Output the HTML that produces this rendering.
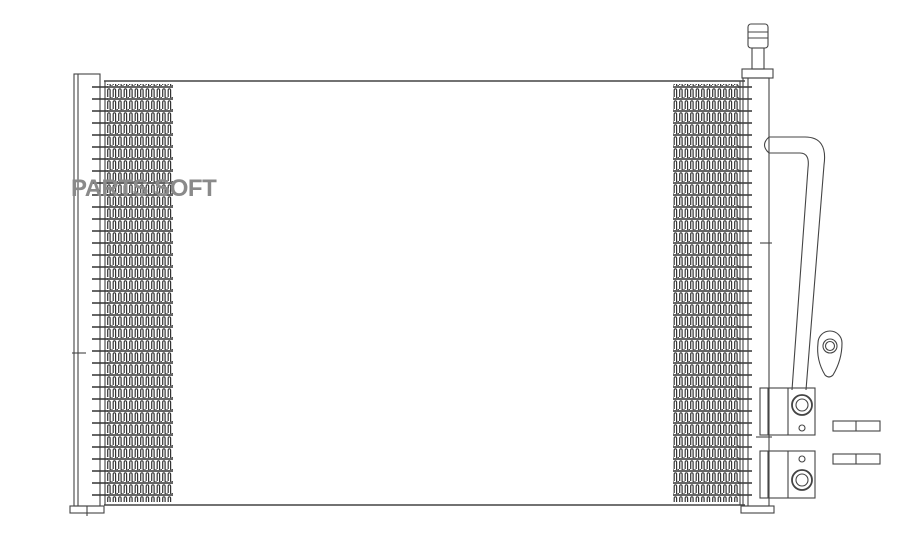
<!DOCTYPE html>
<html><head><style>
html,body{margin:0;padding:0;background:#fff;width:900px;height:534px;overflow:hidden}
.wm{position:absolute;left:71px;top:175px;font-family:"Liberation Sans",sans-serif;font-size:24px;font-weight:bold;color:#8a8a8a;letter-spacing:-0.5px}
</style></head><body>
<svg width="900" height="534" style="position:absolute;left:0;top:0" xmlns="http://www.w3.org/2000/svg">
<defs>
<pattern id="fin" x="107" y="86" width="5.5" height="12" patternUnits="userSpaceOnUse">
<path d="M0.7 11 V4 A1.2 1.2 0 0 1 3.1 4 V11 A1.2 1.2 0 0 0 5.5 11" fill="none" stroke="#333" stroke-width="1.2"/>
<line x1="0" y1="1" x2="5.5" y2="1" stroke="#333" stroke-width="1.5"/>
</pattern>
<pattern id="tick" x="0" y="86" width="20" height="12" patternUnits="userSpaceOnUse">
<line x1="0" y1="1" x2="20" y2="1" stroke="#333" stroke-width="1.6"/>
</pattern>
</defs>
<g fill="none" stroke="#444" stroke-width="1.1">
<rect x="74" y="74" width="26" height="432"/>
<line x1="78" y1="74" x2="78" y2="506"/>
<rect x="70" y="506" width="34" height="7"/>
<line x1="87" y1="506" x2="87" y2="516"/>
<line x1="72" y1="353" x2="86" y2="353"/>
<line x1="104" y1="81" x2="745" y2="81" stroke-width="1.4"/>
<line x1="104" y1="505" x2="745" y2="505" stroke-width="1.4"/>
<line x1="105" y1="81" x2="105" y2="505"/>
<line x1="740" y1="81" x2="740" y2="505"/>
</g>
<rect x="107" y="84" width="66" height="418" fill="url(#fin)"/>
<rect x="673" y="84" width="66" height="418" fill="url(#fin)"/>
<rect x="92" y="86" width="16" height="416" fill="url(#tick)"/>
<rect x="738" y="86" width="14" height="416" fill="url(#tick)"/>
<g fill="none" stroke="#444" stroke-width="1.1">
<rect x="743" y="78" width="26" height="428"/>
<line x1="748" y1="78" x2="748" y2="506"/>
<rect x="742" y="69" width="31" height="9"/>
<rect x="752" y="48" width="12" height="21"/>
<rect x="748" y="24" width="20" height="24" rx="3"/>
<line x1="748" y1="32" x2="768" y2="32"/><line x1="748" y1="38" x2="768" y2="38"/>
<rect x="741" y="506" width="33" height="7"/>
<line x1="760" y1="243" x2="772" y2="243"/>
<path d="M769 137 H805 Q828 137 824 165 L806 390"/>
<path d="M769 153 H800 Q810 153 808 168 L792 390"/>
<path d="M769 137 Q760 145 769 153"/>
<path d="M818 343 A12 12 0 0 1 842 343 Q842 360 833 375 Q829 379 825 375 Q816 360 818 343Z"/>
<circle cx="830" cy="346" r="7"/><circle cx="830" cy="346" r="4.5"/>
<rect x="760" y="388" width="55" height="47"/>
<line x1="768" y1="388" x2="768" y2="435"/><line x1="788" y1="388" x2="788" y2="435"/>
<circle cx="802" cy="405" r="10" stroke-width="1.8"/><circle cx="802" cy="405" r="6"/>
<circle cx="802" cy="428" r="3"/>
<rect x="760" y="451" width="55" height="47"/>
<line x1="768" y1="451" x2="768" y2="498"/><line x1="788" y1="451" x2="788" y2="498"/>
<circle cx="802" cy="480" r="10" stroke-width="1.8"/><circle cx="802" cy="480" r="6"/>
<circle cx="802" cy="459" r="3"/>
<line x1="756" y1="437" x2="772" y2="437"/>
<rect x="833" y="421" width="47" height="10"/><line x1="856" y1="421" x2="856" y2="431"/>
<rect x="833" y="454" width="47" height="10"/><line x1="856" y1="454" x2="856" y2="464"/>
</g>
</svg>
<div class="wm">PARTS SOFT</div>
</body></html>
